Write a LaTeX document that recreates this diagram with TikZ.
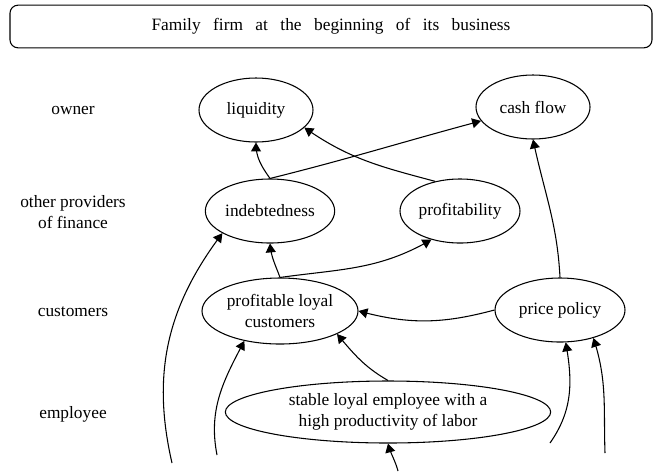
\documentclass[tikz,border=0pt]{standalone}
\usepackage{fontspec}
\setmainfont{Liberation Serif}
\usetikzlibrary{arrows,shapes.geometric}
\newcommand{\widewords}[1]{{\spaceskip=0.72em plus 0.1em\relax #1}}

\begin{document}
\begin{tikzpicture}[x = 0.75pt, y = 0.75pt, font = \fontsize{13}{15.75}\selectfont, line width = 0.8pt,
	goal/.style = {ellipse, draw = black, inner sep = 0pt, minimum height = 48pt, align = center},
	actor/.style = {align = center}]

	\useasboundingbox (0,0) rectangle (659,-472);

	\node (TITLE) at (331,-26.5) [draw, rounded corners = 6pt, minimum width = 481.5pt, minimum height = 32pt] {\widewords{Family firm at the beginning of its business}};

	\node (OWN) at (73,-110) [actor] {owner};
	\node (FIN) at (73,-212) [actor] {other providers\\of finance};
	\node (CUS) at (73,-312) [actor] {customers};
	\node (EMP) at (73,-414) [actor] {employee};

	\node (LIQ)  at (256,-110) [goal, minimum width = 85.5pt] {liquidity};
	\node (CF)   at (533,-107) [goal, minimum width = 85.5pt] {cash flow};
	\node (IND)  at (270,-211) [goal, minimum width = 97pt] {indebtedness};
	\node (PROF) at (460,-211) [goal, minimum width = 90pt] {profitability};
	\node (PLC)  at (280,-311) [goal, minimum width = 117pt, minimum height = 49.5pt] {profitable loyal\\customers};
	\node (PP)   at (560,-310) [goal, minimum width = 97.5pt] {price policy};
	\node (SLE)  at (388,-412) [goal, minimum width = 244pt, minimum height = 46.5pt] {stable loyal employee with a\\high productivity of labor};

	\coordinate (IN1) at (172,-463);
	\coordinate (IN2) at (217,-455);
	\coordinate (IN3) at (398,-471);
	\coordinate (IN4) at (550,-443);
	\coordinate (IN5) at (605,-453);

    \foreach \from/\out/\in/\to in {IND.north/125/-90/LIQ.south, IND.north/14/-165/CF.195, PROF.130/165/-35/LIQ.-20, PP.north/93/-78/CF.south, PLC.north/110/-85/IND.south, PLC.north/8/-150/PROF.225, PP.west/195/-15/PLC.east, SLE.north/150/-50/PLC.-22, IN1/103/-127/IND.205, IN2/101/-118/PLC.220, IN3/105/-75/SLE.south, IN4/55/-80/PP.-80, IN5/92/-72/PP.-40}
    	\draw [-triangle 60] (\from) to [out = \out, in = \in] (\to);
\end{tikzpicture}
\end{document}
